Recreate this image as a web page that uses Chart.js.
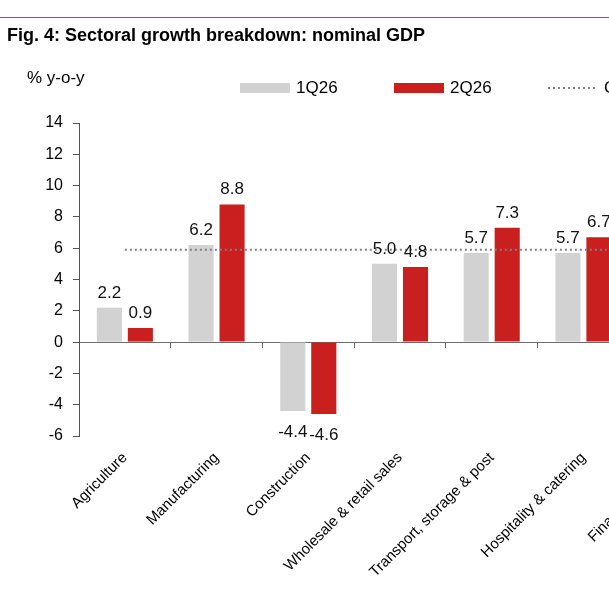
<!DOCTYPE html>
<html>
<head>
<meta charset="utf-8">
<script src="https://cdn.jsdelivr.net/npm/chart.js@4.4.1/dist/chart.umd.min.js"></script>
<style>
html,body{margin:0;padding:0;background:#fff;width:609px;height:609px;overflow:hidden;position:relative;font-family:"Liberation Sans",Arial,sans-serif;}
#wrap{position:absolute;left:0;top:0;width:740px;height:609px;}
#rule{position:absolute;left:0;top:17px;width:609px;height:1px;background:#b4453c;}
#title{position:absolute;left:7px;top:26px;font-weight:bold;font-size:18px;line-height:18px;color:#000;white-space:nowrap;}
#unit{position:absolute;left:27px;top:69px;font-size:17px;line-height:17px;color:#000;white-space:nowrap;}
#legend{position:absolute;left:240px;top:79px;display:flex;white-space:nowrap;}
.item{display:flex;align-items:center;width:154px;flex:none;font-size:17px;line-height:17px;color:#000;}
.sw{display:inline-block;width:50px;height:10px;margin-right:6px;flex:none;}
</style>
</head>
<body>
<div id="wrap"><canvas id="c" width="740" height="609"></canvas></div>
<div id="rule"></div>
<div id="title">Fig. 4: Sectoral growth breakdown: nominal GDP</div>
<div id="unit">% y-o-y</div>
<div id="legend"></div>
<script>
const categories = ['Agriculture', 'Manufacturing', 'Construction', 'Wholesale & retail sales',
  'Transport, storage & post', 'Hospitality & catering', 'Financial services'];
const seriesNames = ['1Q26', '2Q26', 'GDP'];
const q1Values = [2.2, 6.2, -4.4, 5.0, 5.7, 5.7, null];
const q2Values = [0.9, 8.8, -4.6, 4.8, 7.3, 6.7, null];
const gdpValues = [5.9, 5.9, 5.9, 5.9, 5.9, 5.9, 5.9];
const yMin = -6, yMax = 14, yStep = 2;

const FONT = '"Liberation Sans", Arial, sans-serif';
Chart.defaults.font.family = FONT;
Chart.defaults.color = '#000';

const valueLabels = {
  id: 'valueLabels',
  afterDatasetsDraw(chart) {
    const ctx = chart.ctx;
    ctx.save();
    ctx.font = '17px ' + FONT;
    ctx.fillStyle = '#111';
    ctx.textAlign = 'center';
    chart.data.datasets.forEach((ds, i) => {
      if (ds.type === 'line') return;
      const meta = chart.getDatasetMeta(i);
      meta.data.forEach((el, j) => {
        const v = ds.data[j];
        if (v === null || v === undefined) return;
        if (v >= 0) {
          ctx.textBaseline = 'alphabetic';
          ctx.fillText(v.toFixed(1), el.x, el.y - 10);
        } else {
          ctx.textBaseline = 'top';
          ctx.fillText(v.toFixed(1), el.x, el.y + 13);
        }
      });
    });
    ctx.restore();
  }
};

const htmlLegend = {
  id: 'htmlLegend',
  afterUpdate(chart) {
    const box = document.getElementById('legend');
    box.innerHTML = '';
    chart.data.datasets.forEach(ds => {
      const item = document.createElement('div');
      item.className = 'item';
      const sw = document.createElement('span');
      sw.className = 'sw';
      if (ds.type === 'line') {
        sw.style.height = '2px';
        sw.style.background = 'repeating-linear-gradient(to right, ' + ds.borderColor + ' 0 2px, transparent 2px 5px)';
      } else {
        sw.style.background = ds.backgroundColor;
      }
      const t = document.createElement('span');
      t.textContent = ds.label;
      item.append(sw, t);
      box.append(item);
    });
  }
};

new Chart(document.getElementById('c'), {
  type: 'bar',
  data: {
    labels: categories,
    datasets: [
      { label: seriesNames[0], data: q1Values, backgroundColor: '#d2d2d2', borderWidth: 0, order: 1,
        barPercentage: 0.81, categoryPercentage: 0.676 },
      { label: seriesNames[1], data: q2Values, backgroundColor: '#c9201f', borderWidth: 0, order: 1,
        barPercentage: 0.81, categoryPercentage: 0.676 },
      { type: 'line', label: seriesNames[2], data: gdpValues, borderColor: '#7f7f7f', borderWidth: 2,
        borderDash: [2, 3], pointRadius: 0, fill: false, order: 0 }
    ]
  },
  options: {
    responsive: false,
    animation: false,
    layout: { padding: { top: 123, right: 19, left: 0, bottom: 0 } },
    plugins: { legend: { display: false }, tooltip: { enabled: false } },
    scales: {
      x: {
        type: 'category', position: 'bottom', offset: true,
        grid: { display: false }, border: { display: false },
        ticks: { autoSkip: false, minRotation: 45, maxRotation: 45, padding: 5, color: '#000',
          font: { size: 15, family: FONT } },
        afterFit(s) { s.height = 173; }
      },
      x0: {
        type: 'category', position: { y: 0 }, offset: true,
        grid: { offset: true, drawOnChartArea: false, drawTicks: true, tickLength: 5, color: '#6b6b6b' },
        border: { display: true, color: '#6b6b6b', width: 1 },
        ticks: { display: false }
      },
      y: {
        min: yMin, max: yMax,
        ticks: { stepSize: yStep, padding: 10, color: '#000', font: { size: 16, family: FONT } },
        grid: { drawOnChartArea: false, drawTicks: true, tickLength: 6, color: '#555' },
        border: { display: true, color: '#555', width: 1 },
        afterFit(s) { s.width = 79; }
      }
    }
  },
  plugins: [valueLabels, htmlLegend]
});
</script>
</body>
</html>
